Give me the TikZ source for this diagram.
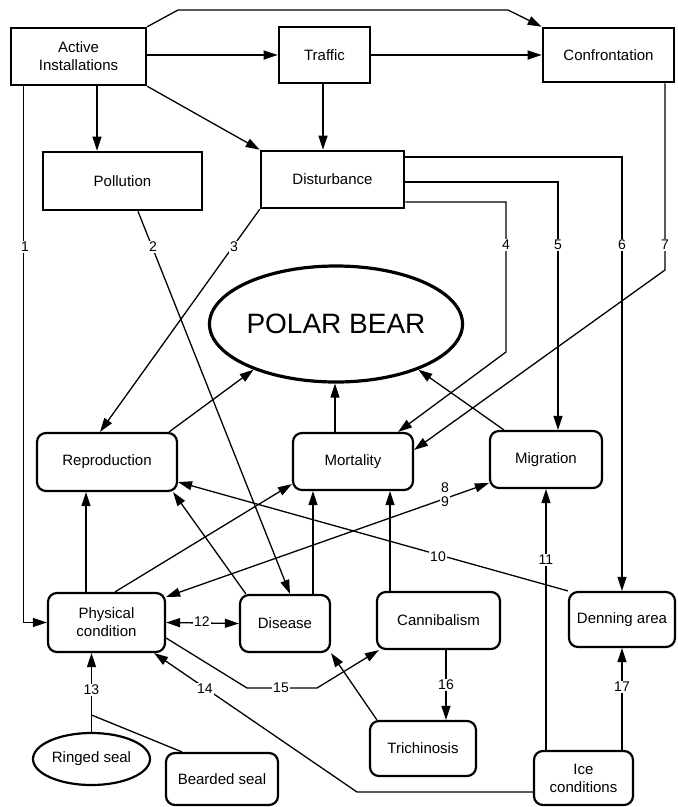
\documentclass[tikz,border=0pt]{standalone}
\usepackage{fontspec}
\setmainfont{Liberation Sans}
\usetikzlibrary{arrows.meta,shapes.geometric,calc}
\begin{document}
\begin{tikzpicture}[x=1pt,y=-1pt,
 txt/.style={font=\fontsize{15}{18}\selectfont, align=center},
 sq/.style={txt, draw, line width=2.6pt, inner sep=2pt},
 rnd/.style={txt, draw, line width=2.2pt, rounded corners=9pt, inner sep=2pt},
 conn/.style={line width=1.3pt},
 arr/.style={conn, -{Triangle[length=14pt,width=9pt]}},
 darr/.style={conn, {Triangle[length=14pt,width=9pt]}-{Triangle[length=14pt,width=9pt]}},
 lab/.style={fill=white, inner sep=1.5pt, font=\fontsize{14}{14}\selectfont, align=center}]
\useasboundingbox (0,0) rectangle (678,807);

% nodes
\node[sq, minimum width=135pt, minimum height=57pt] (ai) at (78.5,56.5) {Active\\Installations};
\node[sq, minimum width=91pt, minimum height=56pt] (traffic) at (324.5,55) {Traffic};
\node[sq, minimum width=131pt, minimum height=54pt] (conf) at (608.5,55) {Confrontation};
\node[sq, minimum width=159pt, minimum height=58pt] (poll) at (122.5,181) {Pollution};
\node[sq, minimum width=143pt, minimum height=57pt] (dist) at (332.5,179.5) {Disturbance};
\node[draw, ellipse, line width=3.2pt, minimum width=248pt, minimum height=116pt, inner sep=0pt, font=\fontsize{28}{30}\selectfont] (bear) at (336,324) {POLAR BEAR};
\node[rnd, minimum width=140pt, minimum height=58pt] (repro) at (107,462) {Reproduction};
\node[rnd, minimum width=120pt, minimum height=57pt] (mort) at (353,461.5) {Mortality};
\node[rnd, minimum width=112pt, minimum height=57pt] (migr) at (546,459.5) {Migration};
\node[rnd, minimum width=117pt, minimum height=59pt] (phys) at (106.5,622.5) {Physical\\condition};
\node[rnd, minimum width=90pt, minimum height=57pt] (dis) at (285,623.5) {Disease};
\node[rnd, minimum width=123pt, minimum height=57pt] (cann) at (438.5,620.5) {Cannibalism};
\node[rnd, minimum width=106pt, minimum height=55pt] (den) at (622,619.5) {Denning area};
\node[rnd, minimum width=106pt, minimum height=55pt] (trich) at (423,748.5) {Trichinosis};
\node[rnd, minimum width=99pt, minimum height=54pt] (ice) at (583.5,778) {Ice\\conditions};
\node[draw, ellipse, line width=2.2pt, minimum width=117pt, minimum height=52pt, inner sep=0pt, txt] (ringed) at (91.5,759) {Ringed seal};
\node[rnd, minimum width=112pt, minimum height=52pt] (bearded) at (222,779) {Bearded seal};

% top connectors
\coordinate (t1) at (178,10);
\coordinate (t2) at (508,10);
\draw[arr] (ai.north east) -- (t1) -- (t2) -- (conf.north west);
\draw[arr] (traffic.west -| ai.east) -- (traffic.west);
\draw[arr] (traffic.east) -- (traffic.east -| conf.west);
\draw[arr] ([xshift=18.5pt]ai.south) -- ([xshift=18.5pt]ai.south |- poll.north);
\draw[arr] (ai.south east) -- (dist.north west);
\draw[arr] ([xshift=-1.5pt]traffic.south) -- ([xshift=-1.5pt]traffic.south |- dist.north);

% numbered 1-7
\draw[arr] ([xshift=14pt]ai.south west) |- (phys.west);
\draw[arr] ([xshift=15.5pt]poll.south) -- ([xshift=5pt]dis.north);
\draw[arr] (dist.south west) -- ([xshift=-7pt]repro.north);
\coordinate (v4) at (506,352);
\draw[arr] ([yshift=-22.5pt]dist.east) -| (v4) -- ([xshift=-16pt]mort.north east);
\draw[arr] ([yshift=-2.5pt]dist.east) -| ([xshift=12pt]migr.north);
\draw[arr] ([yshift=22.5pt]dist.east) -| (den.north);
\coordinate (v7) at (665,270);
\draw[arr] ([xshift=56.5pt]conf.south) -- (v7) -- ([yshift=11.5pt]mort.east);

% to polar bear
\draw[arr] ([xshift=-9pt]repro.north east) -- (bear.209);
\draw[arr] ([xshift=-18pt]mort.north) -- ([xshift=-18pt]mort.north |- bear.south);
\draw[arr] ([xshift=15pt]migr.north west) -- (bear.331);

% middle
\draw[arr] ([xshift=-20.5pt]phys.north) -- ([xshift=-20.5pt]phys.north |- repro.south);
\draw[arr] ([xshift=7pt]dis.north west) -- ([xshift=-5pt]repro.south east);
\draw[arr] ([xshift=8.5pt]phys.north) -- ([yshift=7pt]mort.south west);
\draw[darr] ([yshift=-5pt]phys.north east) -- ([yshift=6pt]migr.south west);
\draw[arr] (den.north west) -- ([yshift=-20pt]repro.east);
\draw[arr] (ice.north -| migr.south) -- (migr.south);
\draw[arr] ([xshift=-48.5pt]cann.north) -- ([xshift=-48.5pt]cann.north |- mort.south);
\draw[arr] ([xshift=28pt]dis.north) -- ([xshift=28pt]dis.north |- mort.south);

% lower
\draw[darr] (phys.east) -- (dis.west);
\draw[arr] (ringed.north) -- (ringed.north |- phys.south);
\coordinate (j13) at (91.5,715);
\draw[conn] (j13) -- ([xshift=17pt]bearded.north west);
\coordinate (k14) at (357,792);
\draw[arr] ([yshift=-14pt]ice.west) -- (k14) -- ([xshift=-12pt]phys.south east);
\coordinate (m15a) at (247,688);
\coordinate (m15b) at (317,688);
\draw[arr] ([yshift=-15.5pt]phys.east) -- (m15a) -- (m15b) -- ([xshift=3pt]cann.south west);
\draw[arr] ([xshift=8pt]trich.north west) -- (dis.south east);
\draw[arr] ([xshift=7.5pt]cann.south) -- ([xshift=7.5pt]cann.south |- trich.north);
\draw[arr] (ice.north -| den.south) -- (den.south);

% labels
\node[lab] (l1) at (25,247) {1};
\node[lab] (l2) at (153,247) {2};
\node[lab] (l3) at (234,247) {3};
\node[lab] (l4) at (506,245) {4};
\node[lab] (l5) at (558,245) {5};
\node[lab] (l6) at (622,245) {6};
\node[lab] (l7) at (665,245) {7};
\node[lab, inner sep=1pt] (l89) at (445,495) {8\\9};
\node[lab] (l10) at (438,557) {10};
\node[lab] (l11) at (546,560) {11};
\node[lab] (l12) at (202,622) {12};
\node[lab] (l13) at (91.5,690) {13};
\node[lab] (l14) at (205,689) {14};
\node[lab] (l15) at (281,688) {15};
\node[lab] (l16) at (446,685) {16};
\node[lab] (l17) at (622,687) {17};
\end{tikzpicture}
\end{document}
